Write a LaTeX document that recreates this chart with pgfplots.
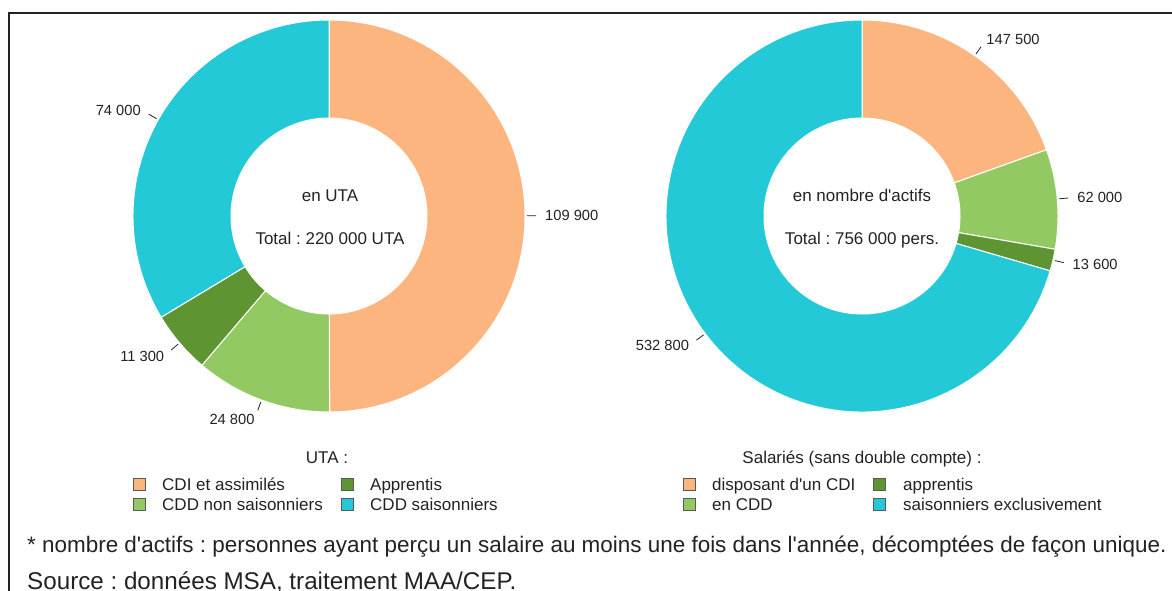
\documentclass[border=0pt]{standalone}
\usepackage{fontspec}
\setmainfont{Liberation Sans}
\usepackage{pgfplots}
\pgfplotsset{compat=1.18}
\usepackage{pgfplotstable}
\frenchspacing

\definecolor{cdi}{HTML}{FDB57F}
\definecolor{cddns}{HTML}{93C963}
\definecolor{appr}{HTML}{5E9532}
\definecolor{sais}{HTML}{23C9D6}
\definecolor{txt}{HTML}{222222}

\pgfplotstableread{
value color
109900 cdi
24800 cddns
11300 appr
74000 sais
}\utatable
\pgfplotstableread{
value color
147500 cdi
62000 cddns
13600 appr
532800 sais
}\actifstable

\newcommand\donut[3]{%
  \pgfplotstablegetrowsof{#1}\pgfmathtruncatemacro\nlast{\pgfplotsretval-1}%
  \def\tot{0}%
  \pgfplotsforeachungrouped \i in {0,...,\nlast}{%
    \pgfplotstablegetelem{\i}{value}\of{#1}%
    \edef\tot{\fpeval{\tot+\pgfplotsretval}}%
  }%
  \def\cum{0}%
  \pgfplotsforeachungrouped \i in {0,...,\nlast}{%
    \pgfplotstablegetelem{\i}{value}\of{#1}\edef\v{\pgfplotsretval}%
    \pgfplotstablegetelem{\i}{color}\of{#1}\edef\c{\pgfplotsretval}%
    \edef\aS{\fpeval{90-360*\cum/\tot}}%
    \edef\cum{\fpeval{\cum+\v}}%
    \edef\aE{\fpeval{90-360*\cum/\tot}}%
    \edef\aM{\fpeval{(\aS+\aE)/2}}%
    \edef\xa{\fpeval{#2+196*cosd(\aS)}}\edef\ya{\fpeval{#3+196*sind(\aS)}}%
    \edef\xb{\fpeval{#2+98*cosd(\aE)}}\edef\yb{\fpeval{#3+98*sind(\aE)}}%
    \edef\xp{\fpeval{#2+198*cosd(\aM)}}\edef\yp{\fpeval{#3+198*sind(\aM)}}%
    \edef\xq{\fpeval{#2+207*cosd(\aM)}}\edef\yq{\fpeval{#3+207*sind(\aM)}}%
    \edef\xl{\fpeval{#2+216*cosd(\aM)}}\edef\yl{\fpeval{#3+216*sind(\aM)}}%
    \ifdim\fpeval{cosd(\aM)}pt>0pt \def\anc{west}\else\def\anc{east}\fi
    \edef\tmp{\noexpand\fill[\c, draw=white, line width=1pt] (axis cs:\xa,\ya) arc[start angle=\aS, end angle=\aE, radius=196pt] -- (axis cs:\xb,\yb) arc[start angle=\aE, end angle=\aS, radius=98pt] -- cycle;}%
    \tmp
    \edef\tmp{\noexpand\draw[txt, line width=0.8pt] (axis cs:\xp,\yp) -- (axis cs:\xq,\yq);}%
    \tmp
    \edef\tmp{\noexpand\node[anchor=\anc, inner sep=0pt, text height=10.5pt, text depth=0pt, text=txt, font=\noexpand\fontsize{14.7}{17}\noexpand\selectfont] at (axis cs:\xl,\yl) {\noexpand\pgfmathprintnumber[fixed, precision=0, 1000 sep={\noexpand\ }, assume math mode=true]{\v}};}%
    \tmp
  }%
}

\begin{document}
\begin{tikzpicture}[x=1pt,y=1pt,
  big/.style={inner sep=0pt, text height=12.2pt, text depth=0pt, text=txt, font=\fontsize{17}{20}\selectfont},
  sq/.style={draw=black!65, line width=0.8pt}]
\useasboundingbox (0,0) rectangle (1172,-590);
\draw[line width=2pt, color=txt] (8.5,-12.5) rectangle (1195,-615);
\begin{axis}[at={(0pt,-590pt)}, anchor=south west, x=1pt, y=1pt,
  xmin=0, xmax=1172, ymin=-590, ymax=0, hide axis, clip=false, scale only axis]
\donut{\utatable}{329}{-216}
\donut{\actifstable}{862}{-216}
\end{axis}
% centre texts
\node[big] at (330,-195) {en UTA};
\node[big] at (330,-238) {Total : 220 000 UTA};
\node[big] at (862,-195) {en nombre d\textquotesingle actifs};
\node[big] at (862,-238) {Total : 756 000 pers.};
% legend left
\node[big] at (327,-457) {UTA :};
\draw[sq, fill=cdi] (133,-478) rectangle (145,-490);
\draw[sq, fill=appr] (341.5,-478) rectangle (353.5,-490);
\draw[sq, fill=cddns] (133,-498.5) rectangle (145,-510.5);
\draw[sq, fill=sais] (341.5,-498.5) rectangle (353.5,-510.5);
\node[big, anchor=west] at (162,-484) {CDI et assimilés};
\node[big, anchor=west] at (370,-484) {Apprentis};
\node[big, anchor=west] at (162,-504.5) {CDD non saisonniers};
\node[big, anchor=west] at (370,-504.5) {CDD saisonniers};
% legend right
\node[big] at (862,-457) {Salariés (sans double compte) :};
\draw[sq, fill=cdi] (683.5,-478) rectangle (695.5,-490);
\draw[sq, fill=appr] (873.5,-478) rectangle (885.5,-490);
\draw[sq, fill=cddns] (683.5,-498.5) rectangle (695.5,-510.5);
\draw[sq, fill=sais] (873.5,-498.5) rectangle (885.5,-510.5);
\node[big, anchor=west] at (712,-484) {disposant d\textquotesingle un CDI};
\node[big, anchor=west] at (903,-484) {apprentis};
\node[big, anchor=west] at (712,-504.5) {en CDD};
\node[big, anchor=west] at (903,-504.5) {saisonniers exclusivement};
% footnotes
\node[inner sep=0pt, anchor=base west, text=txt, font=\fontsize{22.45}{26}\selectfont] at (27,-552) {* nombre d\textquotesingle actifs : personnes ayant perçu un salaire au moins une fois dans l\textquotesingle année, décomptées de façon unique.};
\node[inner sep=0pt, anchor=base west, text=txt, font=\fontsize{24.2}{28}\selectfont] at (27,-589.5) {Source : données MSA, traitement MAA/CEP.};
\end{tikzpicture}
\end{document}
